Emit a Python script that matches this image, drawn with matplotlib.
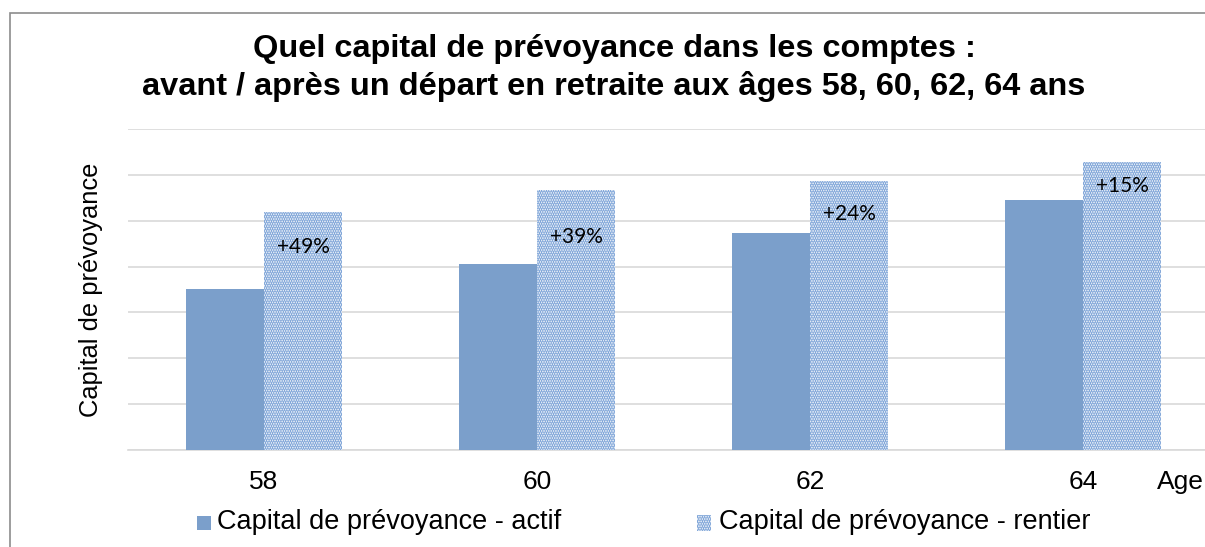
import matplotlib
matplotlib.use("Agg")
import matplotlib.pyplot as plt
from matplotlib.patches import Rectangle
import numpy as np

ages = ["58", "60", "62", "64"]
actif = [3.50, 4.06, 4.73, 5.46]
rentier = [5.20, 5.68, 5.87, 6.28]
gains = ["+49%", "+39%", "+24%", "+15%"]

title = "Quel capital de prévoyance dans les comptes :\navant / après un départ en retraite aux âges 58, 60, 62, 64 ans"
ylabel = "Capital de prévoyance"
xlabel = "Age"
leg_labels = ["Capital de prévoyance - actif", "Capital de prévoyance - rentier"]

W, H = 1205, 547
fig = plt.figure(figsize=(W / 100, H / 100), dpi=100)
plt.rcParams['hatch.linewidth'] = 1.6

c_act = "#7b9fcb"
c_face = "#f5f8fc"
c_hatch = "#7fa5d8"
HATCH = "......."

# outer frame (cropped at right and bottom)
fig.patches.append(Rectangle((9.5 / W, -0.1), 1.2, (H - 12.5) / H + 0.1,
                             transform=fig.transFigure, fill=False,
                             edgecolor="#8c8c8c", lw=1.2))

ax = fig.add_axes([127.5 / W, (H - 449.5) / H, 1092 / W, 320.2 / H])
x = np.arange(len(ages))
w = 0.2857
ax.bar(x - w / 2, actif, w, color=c_act, linewidth=0, zorder=3)
ax.bar(x + w / 2, rentier, w, facecolor=c_face, edgecolor=c_hatch,
       hatch=HATCH, linewidth=0, zorder=3)

offs = [35, 47, 33, 24]
for xi, v, g, o in zip(x, rentier, gains, offs):
    ax.annotate(g, (xi + w / 2, v), xytext=(0, -o), textcoords="offset pixels",
                ha="center", va="center", fontsize=15, family="Lato",
                color="black", zorder=5)

ax.set_xlim(-0.5, 3.5)
ax.set_ylim(0, 7)
ax.set_yticks(np.arange(0, 8, 1))
ax.set_yticklabels([])
ax.tick_params(axis="y", length=0)
ax.grid(axis="y", color="#d9d9d9", lw=1.2, zorder=0)
ax.set_axisbelow(True)
for s in ["top", "right", "left"]:
    ax.spines[s].set_visible(False)
ax.spines["bottom"].set_color("#d9d9d9")
ax.spines["bottom"].set_linewidth(1.2)
ax.set_xticks(x)
ax.set_xticklabels(ages, fontsize=19, family="Liberation Sans")
ax.tick_params(axis="x", length=0, pad=15)

fig.text(91 / W, 1 - 290 / H, ylabel, rotation=90, ha="center", va="center",
         fontsize=18.4, family="Liberation Sans")
fig.text(1180 / W, 1 - 482 / H, xlabel, ha="center", va="center",
         fontsize=19, family="Liberation Sans")
fig.text(614 / W, 1 - 68 / H, title, ha="center", va="center", fontsize=23.4,
         fontweight="bold", family="Liberation Sans", linespacing=1.27)

# legend (drawn manually)
fig.patches.append(Rectangle((197 / W, 1 - 530 / H), 14 / W, 14 / H,
                             transform=fig.transFigure, facecolor=c_act, linewidth=0))
fig.text(217 / W, 1 - 522 / H, leg_labels[0], ha="left", va="center",
         fontsize=19.5, family="Liberation Sans")
fig.patches.append(Rectangle((697 / W, 1 - 531 / H), 14 / W, 16 / H,
                             transform=fig.transFigure, facecolor=c_face,
                             edgecolor=c_hatch, hatch=HATCH, linewidth=0))
fig.text(719 / W, 1 - 522 / H, leg_labels[1], ha="left", va="center",
         fontsize=19.5, family="Liberation Sans")

fig.savefig("out.png", dpi=100)
